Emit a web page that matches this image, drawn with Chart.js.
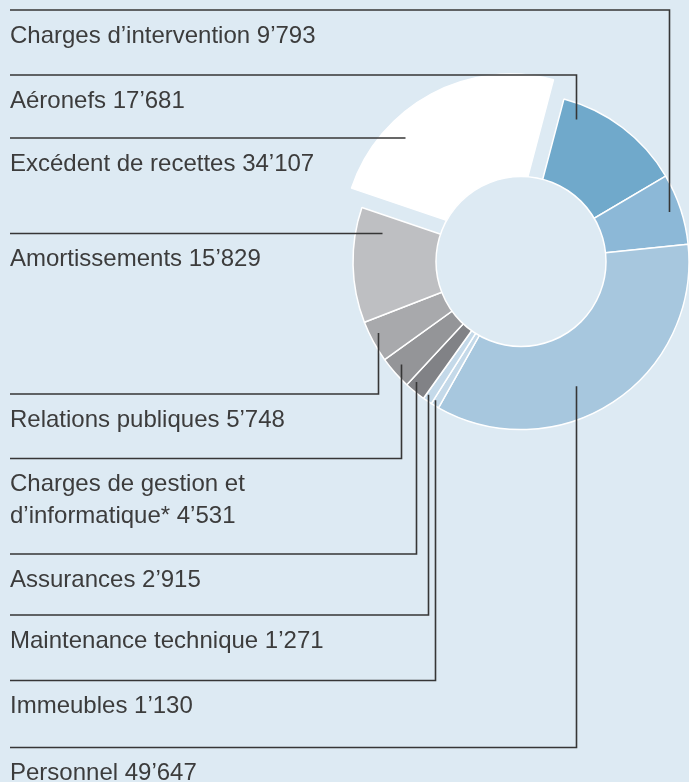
<!DOCTYPE html>
<html>
<head>
<meta charset="utf-8">
<script src="https://cdn.jsdelivr.net/npm/chart.js@4"></script>
<style>
  html, body { margin: 0; padding: 0; background: #ddeaf3; overflow: hidden; }
  #chart { display: block; }
</style>
</head>
<body>
<canvas id="chart" width="689" height="782"></canvas>
<script>
// categories, clockwise from the top
const categories = [
    "Aéronefs",
    "Charges d’intervention",
    "Personnel",
    "Immeubles",
    "Maintenance technique",
    "Assurances",
    "Charges de gestion et\nd’informatique*",
    "Relations publiques",
    "Amortissements",
    "Excédent de recettes"
];
const values = [17681, 9793, 49647, 1130, 1271, 2915, 4531, 5748, 15829, 34107];
const colors = ["#70a9cb", "#8cb8d7", "#a7c7de", "#c4d9e9", "#c4d9e9",
                "#818286", "#949598", "#a8a9ac", "#bebfc2", "#ffffff"];
const explode = [0, 0, 0, 0, 0, 0, 0, 0, 0, 88];

// label rows: y of the rule above each label, and where the leader meets the slice
// (t = fraction along the slice angle, rf = fraction between hole and outer radius)
const ruleY = [75, 10, 747.5, 680.5, 615, 554, 458.5, 394, 233.5, 138];
const leaderT = [0.14, 0.49, 0.575, 0.8, 0.79, 0.76, 0.57, 0.63, 0.82, 0.30];
const leaderR = [0.81, 0.86, 0.62, 0.94, 0.93, 0.90, 0.88, 0.90, 0.69, 0.76];
const flat = [false, false, false, false, false, false, false, false, true, true];

const bg = "#ddeaf3";
const holeFrac = 0.506;

function fmt(v) {
    return String(v).replace(/\B(?=(\d{3})+(?!\d))/g, "’");
}

// the hole is cut after the slices are drawn, so the exploded slice keeps
// its inner edge on the same circle as the others
const holePlugin = {
    id: "hole",
    afterDatasetsDraw(chart) {
        const arc = chart.getDatasetMeta(0).data[0];
        if (!arc) return;
        const ctx = chart.ctx;
        ctx.save();
        ctx.beginPath();
        ctx.arc(arc.x, arc.y, arc.outerRadius * holeFrac, 0, Math.PI * 2);
        ctx.fillStyle = bg;
        ctx.fill();
        ctx.strokeStyle = "#ffffff";
        ctx.lineWidth = 1.5;
        ctx.stroke();
        ctx.restore();
    }
};

const labelPlugin = {
    id: "leaders",
    afterDraw(chart) {
        const ctx = chart.ctx;
        const meta = chart.getDatasetMeta(0);
        ctx.save();
        ctx.strokeStyle = "#363636";
        ctx.lineWidth = 1.6;
        ctx.fillStyle = "#3c3c3c";
        ctx.font = "24px 'Liberation Sans', Arial, sans-serif";
        ctx.textBaseline = "alphabetic";

        meta.data.forEach((arc, i) => {
            const p = arc.getProps(["x", "y", "startAngle", "endAngle", "outerRadius"], true);
            const inner = p.outerRadius * holeFrac;
            const off = (arc.options.offset || 0) / 4;
            const half = (p.startAngle + p.endAngle) / 2;
            const a = p.startAngle + leaderT[i] * (p.endAngle - p.startAngle);
            const r = inner + leaderR[i] * (p.outerRadius - inner);
            const ax = p.x + Math.cos(half) * off + Math.cos(a) * r;
            let ay = p.y + Math.sin(half) * off + Math.sin(a) * r;
            const y = ruleY[i];
            if (flat[i]) ay = y;

            ctx.beginPath();
            ctx.moveTo(10, y);
            ctx.lineTo(Math.round(ax) + 0.5, y);
            ctx.lineTo(Math.round(ax) + 0.5, ay);
            ctx.stroke();

            const lines = categories[i].split("\n");
            lines[lines.length - 1] += " " + fmt(values[i]);
            lines.forEach((line, k) => {
                ctx.fillText(line, 10, y + 32.5 + k * 31.7);
            });
        });
        ctx.restore();
    }
};

new Chart(document.getElementById("chart"), {
    type: "pie",
    data: {
        labels: categories,
        datasets: [{
            data: values,
            backgroundColor: colors,
            borderColor: "#ffffff",
            borderWidth: 1.5,
            offset: explode
        }]
    },
    options: {
        responsive: false,
        devicePixelRatio: 1,
        animation: false,
        rotation: 14.8,
        radius: 168,
        layout: { padding: { left: 353, right: 0, top: 93, bottom: 352 } },
        plugins: {
            legend: { display: false },
            tooltip: { enabled: false }
        }
    },
    plugins: [holePlugin, labelPlugin]
});
</script>
</body>
</html>
